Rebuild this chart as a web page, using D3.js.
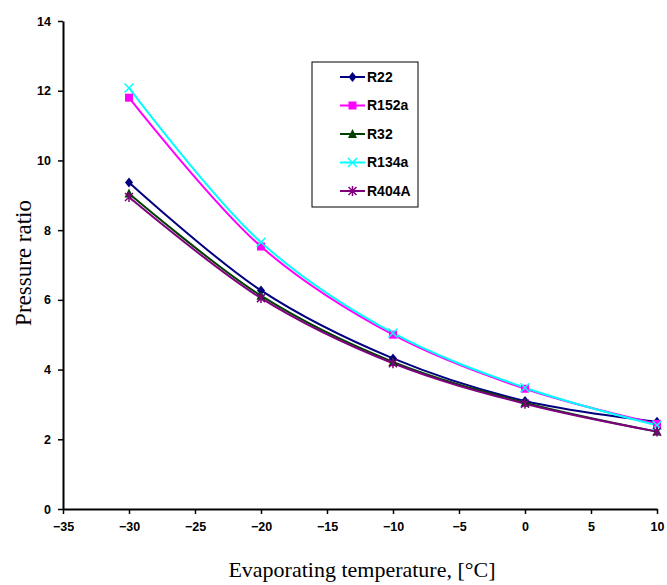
<!DOCTYPE html>
<html>
<head>
<meta charset="utf-8">
<script src="https://cdn.jsdelivr.net/npm/d3@7"></script>
<style>
  body { margin: 0; background: #fff; }
  .tick text { font-family: "Liberation Sans", Arial, sans-serif; font-weight: bold; font-size: 12.5px; }
</style>
</head>
<body>
<div id="chart"></div>
<script>
// data
const temps = [-30, -20, -10, 0, 10];
const seriesNames = ["R22", "R152a", "R32", "R134a", "R404A"];
const r22 = [9.37, 6.27, 4.32, 3.10, 2.50];
const r152a = [11.80, 7.53, 5.00, 3.45, 2.44];
const r32 = [9.05, 6.12, 4.22, 3.05, 2.22];
const r134a = [12.08, 7.65, 5.05, 3.48, 2.40];
const r404a = [8.95, 6.05, 4.18, 3.02, 2.22];
const xTicks = [-35, -30, -25, -20, -15, -10, -5, 0, 5, 10];
const yTicks = [0, 2, 4, 6, 8, 10, 12, 14];

const colors = ["#000080", "#FF00FF", "#004000", "#00FFFF", "#800080"];
const shapes = ["diamond", "square", "triangle", "x", "star"];
const values = [r22, r152a, r32, r134a, r404a];

const width = 667, height = 585;

const svg = d3.select("#chart")
  .append("svg")
  .attr("width", width)
  .attr("height", height);

const x = d3.scaleLinear().domain([-35, 10]).range([63, 657]);
const y = d3.scaleLinear().domain([0, 14]).range([509, 21]);

// axes
const yAxis = svg.append("g")
  .attr("transform", `translate(${x(-35)},0)`)
  .call(d3.axisLeft(y).tickValues(yTicks).tickSize(5).tickSizeOuter(0).tickPadding(7));
const xAxis = svg.append("g")
  .attr("transform", `translate(0,${y(0)})`)
  .call(d3.axisBottom(x).tickValues(xTicks).tickSize(5).tickSizeOuter(0).tickPadding(8));
[xAxis, yAxis].forEach(a => {
  a.select(".domain").attr("stroke", "#000").attr("stroke-width", 2);
  a.selectAll(".tick line").attr("stroke", "#000").attr("stroke-width", 1.5);
  a.selectAll(".tick text").attr("fill", "#000");
});

// axis titles
svg.append("text")
  .attr("x", 362)
  .attr("y", 577)
  .attr("text-anchor", "middle")
  .style("font-family", "'Liberation Serif', 'Times New Roman', serif")
  .style("font-size", "22px")
  .text("Evaporating temperature, [°C]");

svg.append("text")
  .attr("transform", `translate(31,263) rotate(-90)`)
  .attr("text-anchor", "middle")
  .style("font-family", "'Liberation Serif', 'Times New Roman', serif")
  .style("font-size", "23px")
  .text("Pressure ratio");

// markers
function drawMarker(g, shape, color) {
  if (shape === "diamond") {
    g.append("path").attr("d", "M0,-5L4,0L0,5L-4,0Z").attr("fill", color);
  } else if (shape === "square") {
    g.append("rect").attr("x", -4).attr("y", -4).attr("width", 8).attr("height", 8).attr("fill", color);
  } else if (shape === "triangle") {
    g.append("path").attr("d", "M0,-5L4.5,4L-4.5,4Z").attr("fill", color);
  } else if (shape === "x") {
    g.append("path").attr("d", "M-4.5,-4.5L4.5,4.5M-4.5,4.5L4.5,-4.5")
      .attr("stroke", color).attr("stroke-width", 1.5);
  } else {
    g.append("path").attr("d", "M-4,-4L4,4M-4,4L4,-4M0,-5L0,5")
      .attr("stroke", color).attr("stroke-width", 1.5);
  }
}

const line = d3.line()
  .x((d, i) => x(temps[i]))
  .y(d => y(d))
  .curve(d3.curveCatmullRom);

seriesNames.forEach((name, k) => {
  svg.append("path")
    .datum(values[k])
    .attr("fill", "none")
    .attr("stroke", colors[k])
    .attr("stroke-width", 2)
    .attr("d", line);
});
seriesNames.forEach((name, k) => {
  values[k].forEach((v, i) => {
    const g = svg.append("g").attr("transform", `translate(${x(temps[i])},${y(v)})`);
    drawMarker(g, shapes[k], colors[k]);
  });
});

// legend
const legend = svg.append("g").attr("transform", "translate(312,62)");
legend.append("rect")
  .attr("width", 106)
  .attr("height", 145)
  .attr("fill", "#fff")
  .attr("stroke", "#000")
  .attr("stroke-width", 1);

const items = legend.selectAll(".legend-item")
  .data(seriesNames)
  .enter().append("g")
  .attr("class", "legend-item")
  .attr("transform", (d, i) => `translate(0,${15 + i * 28.5})`);

items.append("line")
  .attr("x1", 28).attr("x2", 53)
  .attr("stroke", (d, i) => colors[i])
  .attr("stroke-width", 2);
items.each(function(d, i) {
  const g = d3.select(this).append("g").attr("transform", "translate(40.5,0)");
  drawMarker(g, shapes[i], colors[i]);
});
items.append("text")
  .attr("x", 55)
  .attr("dy", "0.35em")
  .style("font-family", "'Liberation Sans', Arial, sans-serif")
  .style("font-weight", "bold")
  .style("font-size", "14px")
  .text(d => d);
</script>
</body>
</html>
